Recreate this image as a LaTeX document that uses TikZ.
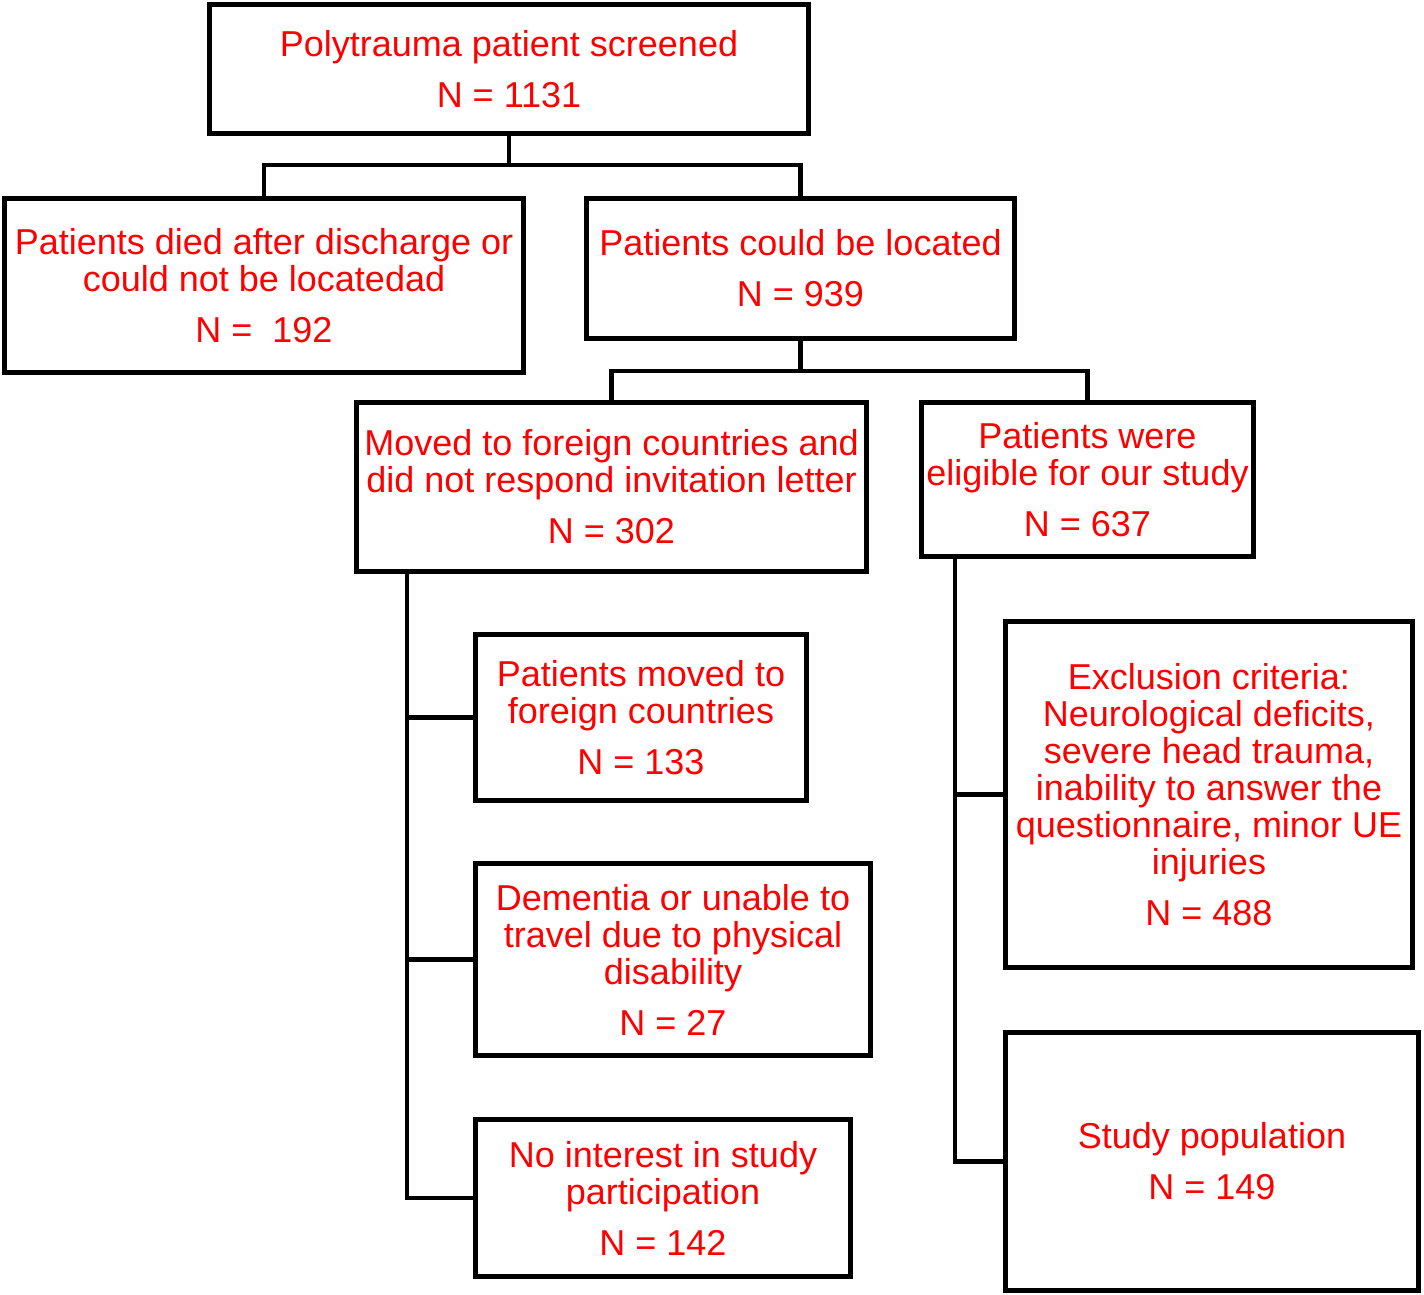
\documentclass[tikz,border=0pt]{standalone}
\usepackage{fontspec}
\setmainfont{Liberation Sans}
\usetikzlibrary{positioning}
\tikzset{b/.style 2 args={draw=black,line width=2.4pt,align=center,text=red,
   minimum width=#1*0.5pt,minimum height=#2*0.5pt,inner sep=0pt},
 wire/.style={line width=2.4pt}}

\begin{document}
\begin{tikzpicture}[x=0.5pt,y=-0.5pt,font=\fontsize{18}{18.5}\selectfont]
\useasboundingbox (0,0) rectangle (1424,1295);
\node[b={599}{129}](top) at (509,69){Polytrauma patient screened\\[7pt]N = 1131};
\node[b={519}{174}](died) at (264,285.5){Patients died after discharge or\\could not be locatedad\\[7pt]N =\ \ 192};
\node[b={428}{140}](located) at (800.5,268.5){Patients could be located\\[7pt]N = 939};
\node[b={510}{169}](moved) at (611.5,487){Moved to foreign countries and\\did not respond invitation letter\\[7pt]N = 302};
\node[b={332}{154}](eligible) at (1087.5,479.5){Patients were\\eligible for our study\\[7pt]N = 637};
\node[b={331}{166}](foreign) at (641,717.5){Patients moved to\\foreign countries\\[7pt]N = 133};
\node[b={395}{192}](dementia) at (673,959.5){Dementia or unable to\\travel due to physical\\disability\\[7pt]N = 27};
\node[b={375}{157}](nointerest) at (663,1198){No interest in study\\participation\\[7pt]N = 142};
\node[b={407}{346}](exclusion) at (1209,794.5){Exclusion criteria:\\Neurological deficits,\\severe head trauma,\\inability to answer the\\questionnaire, minor UE\\injuries\\[7pt]N = 488};
\node[b={413}{258}](studypop) at (1212,1161.5){Study population\\[7pt]N = 149};
% tree joints
\coordinate (j1) at (509,165);\coordinate (j2) at (800.5,371);
\draw[wire](top.south)--(j1);\draw[wire](died.north)|-(j1)-|(located.north);
\draw[wire](located.south)--(j2);\draw[wire](moved.north)|-(j2)-|(eligible.north);
% side trunks
\coordinate (lt) at (407,0);\coordinate (rt) at (955,0);
\draw[wire](lt|-moved.south)|-(nointerest.west);
\draw[wire](lt|-foreign.west)--(foreign.west);
\draw[wire](lt|-dementia.west)--(dementia.west);
\draw[wire](rt|-eligible.south)|-(studypop.west);
\draw[wire](rt|-exclusion.west)--(exclusion.west);
\end{tikzpicture}
\end{document}
